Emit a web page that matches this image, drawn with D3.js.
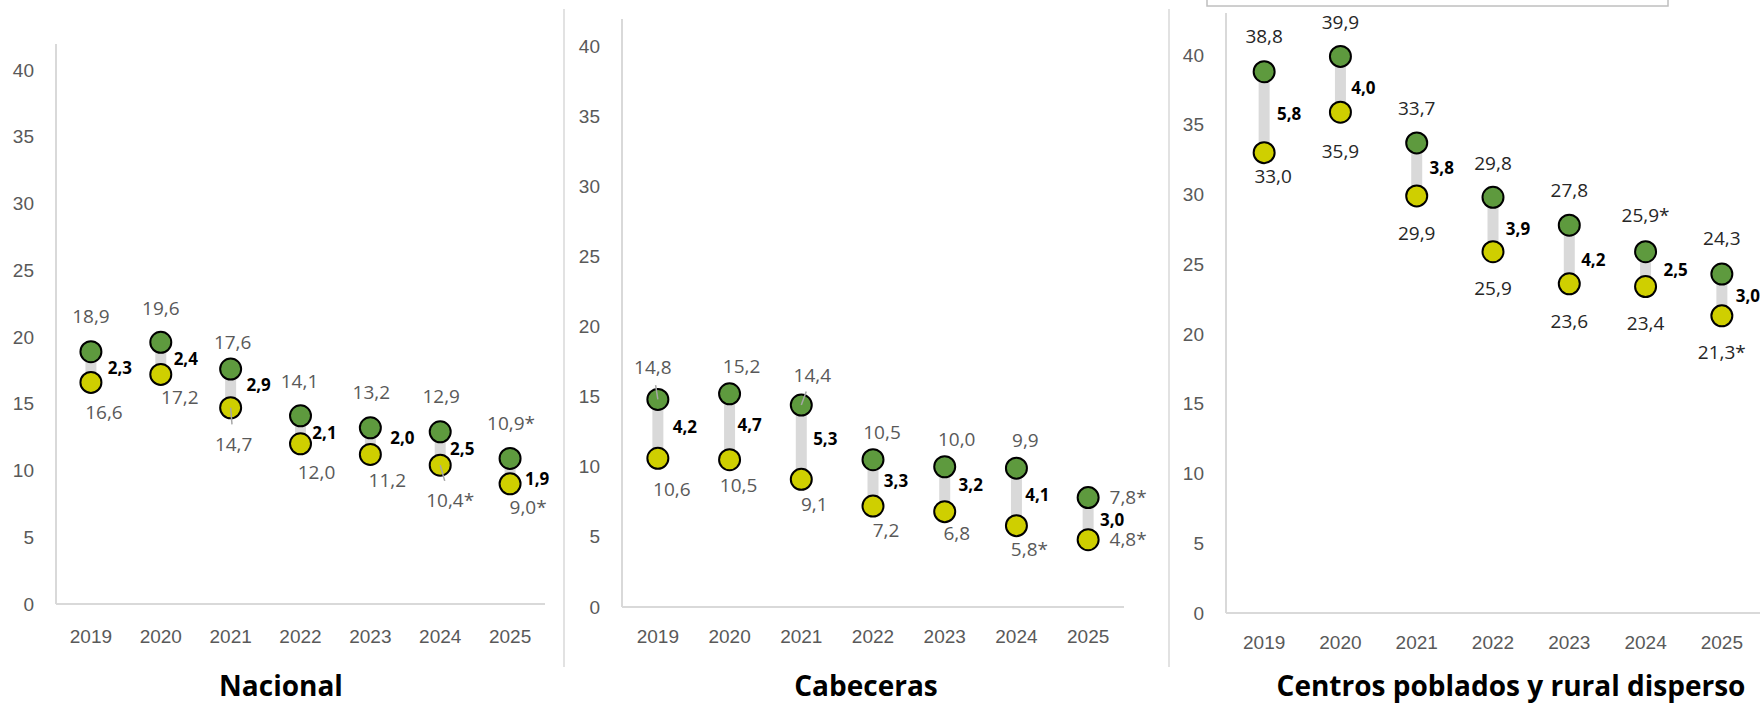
<!DOCTYPE html>
<html>
<head>
<meta charset="utf-8">
<script src="https://cdn.jsdelivr.net/npm/d3@7"></script>
<style>
  body { margin: 0; background: #fff; }
  svg { display: block; font-family: "Open Sans", "Noto Sans", sans-serif; }
</style>
</head>
<body>
<svg id="chart" width="1764" height="703"></svg>
<script>
// data
const years = ["2019", "2020", "2021", "2022", "2023", "2024", "2025"];
const yTicks = [0, 5, 10, 15, 20, 25, 30, 35, 40];

const nacionalAlto = [18.9, 19.6, 17.6, 14.1, 13.2, 12.9, 10.9];
const nacionalBajo = [16.6, 17.2, 14.7, 12.0, 11.2, 10.4, 9.0];
const nacionalDif  = [2.3, 2.4, 2.9, 2.1, 2.0, 2.5, 1.9];
const nacionalAltoStar = [0, 0, 0, 0, 0, 0, 1];
const nacionalBajoStar = [0, 0, 0, 0, 0, 1, 1];

const cabecerasAlto = [14.8, 15.2, 14.4, 10.5, 10.0, 9.9, 7.8];
const cabecerasBajo = [10.6, 10.5, 9.1, 7.2, 6.8, 5.8, 4.8];
const cabecerasDif  = [4.2, 4.7, 5.3, 3.3, 3.2, 4.1, 3.0];
const cabecerasAltoStar = [0, 0, 0, 0, 0, 0, 1];
const cabecerasBajoStar = [0, 0, 0, 0, 0, 1, 1];

const ruralAlto = [38.8, 39.9, 33.7, 29.8, 27.8, 25.9, 24.3];
const ruralBajo = [33.0, 35.9, 29.9, 25.9, 23.6, 23.4, 21.3];
const ruralDif  = [5.8, 4.0, 3.8, 3.9, 4.2, 2.5, 3.0];
const ruralAltoStar = [0, 0, 0, 0, 0, 1, 0];
const ruralBajoStar = [0, 0, 0, 0, 0, 0, 1];

const titles = ["Nacional", "Cabeceras", "Centros poblados y rural disperso"];

// layout of the three panels (pixels)
const panels = [
  { title: titles[0], alto: nacionalAlto, bajo: nacionalBajo, dif: nacionalDif,
    altoStar: nacionalAltoStar, bajoStar: nacionalBajoStar,
    x0: 56, x1: 545, yTop: 44, y0: 604, y40: 70, yearY: 637, titleX: 281, valueColor: "#595959",
    // label nudges [dx, dy] from the point
    altoOff: [[0,-35],[0,-34],[2,-27],[-1,-34],[1,-35],[1,-35],[1,-35]],
    bajoOff: [[13,30],[19,23],[3,37],[16,29],[17,26],[10,35],[18,23]],
    difOff:  [[29,1],[25,1],[28,-3],[24,3],[32,-3],[22,1],[27,8]],
    leaders: [["bajo", 2], ["bajo", 5]] },
  { title: titles[1], alto: cabecerasAlto, bajo: cabecerasBajo, dif: cabecerasDif,
    altoStar: cabecerasAltoStar, bajoStar: cabecerasBajoStar,
    x0: 622, x1: 1124, yTop: 19, y0: 607, y40: 46, yearY: 637, titleX: 866, valueColor: "#595959",
    altoOff: [[-5,-32],[12,-27],[11,-30],[9,-27],[12,-27],[9,-28],[40,0]],
    bajoOff: [[14,31],[9,26],[13,25],[13,24],[12,22],[13,24],[40,0]],
    difOff:  [[27,-2],[20,-2],[24,-3],[23,-2],[26,-4],[21,-2],[24,1]],
    leaders: [["alto", 0], ["alto", 2]] },
  { title: titles[2], alto: ruralAlto, bajo: ruralBajo, dif: ruralDif,
    altoStar: ruralAltoStar, bajoStar: ruralBajoStar,
    x0: 1226, x1: 1760, yTop: 13, y0: 613, y40: 55, yearY: 643, titleX: 1511, valueColor: "#262626",
    altoOff: [[0,-35],[0,-34],[0,-35],[0,-34],[0,-35],[0,-36],[0,-36]],
    bajoOff: [[9,24],[0,39],[0,37],[0,37],[0,38],[0,37],[0,36]],
    difOff:  [[25,2],[23,4],[25,-1],[25,5],[24,6],[30,1],[26,1]],
    leaders: [] }
];

const svg = d3.select("#chart");
const fmt = (v, star) => d3.format(".1f")(v).replace(".", ",") + (star ? "*" : "");
const green = "#5E9A3E", yellow = "#CFCF00", gridGray = "#D9D9D9";

// separators between panels and cut-off legend box
[564, 1169].forEach(x => {
  svg.append("line").attr("x1", x).attr("x2", x).attr("y1", 9).attr("y2", 667)
    .attr("stroke", gridGray).attr("stroke-width", 1.5);
});
svg.append("rect").attr("x", 1207).attr("y", -20).attr("width", 461).attr("height", 26)
  .attr("fill", "#fff").attr("stroke", "#BFBFBF").attr("stroke-width", 1.5);

panels.forEach(p => {
  const g = svg.append("g");
  const x = d3.scaleBand().domain(years).range([p.x0, p.x1]);
  const y = d3.scaleLinear().domain([0, 40]).range([p.y0, p.y40]);
  const cx = i => x(years[i]) + x.bandwidth() / 2;

  // axes
  const yAxis = g.append("g").attr("transform", `translate(${p.x0},0)`)
    .call(d3.axisLeft(y).tickValues(yTicks).tickSize(0).tickPadding(22));
  yAxis.select(".domain").remove();
  yAxis.selectAll("text").attr("fill", "#595959").style("font-size", "19px");

  const xAxis = g.append("g").attr("transform", `translate(0,${p.y0})`)
    .call(d3.axisBottom(x).tickSize(0).tickPadding(p.yearY - p.y0 - 7));
  xAxis.select(".domain").remove();
  xAxis.selectAll("text").attr("fill", "#595959").style("font-size", "19px");

  g.append("line").attr("x1", p.x0).attr("x2", p.x0).attr("y1", p.yTop).attr("y2", y(0))
    .attr("stroke", gridGray).attr("stroke-width", 2);
  g.append("line").attr("x1", p.x0).attr("x2", p.x1).attr("y1", y(0)).attr("y2", y(0))
    .attr("stroke", gridGray).attr("stroke-width", 2);

  const idx = d3.range(years.length);

  // connecting bars
  g.selectAll(".bar").data(idx).join("line")
    .attr("x1", cx).attr("x2", cx)
    .attr("y1", i => y(p.alto[i])).attr("y2", i => y(p.bajo[i]))
    .attr("stroke", gridGray).attr("stroke-width", 11);

  // leader lines
  p.leaders.forEach(([which, i]) => {
    const v = which === "alto" ? p.alto[i] : p.bajo[i];
    const off = which === "alto" ? p.altoOff[i] : p.bajoOff[i];
    const sx = cx(i), sy = y(v);
    const ex = sx + off[0] * 0.45, ey = sy + off[1] * 0.45;
    g.append("line").attr("x1", sx).attr("y1", sy).attr("x2", ex).attr("y2", ey)
      .attr("stroke", "#A6A6A6").attr("stroke-width", 1.5).attr("class", "leader");
  });

  // points
  g.selectAll(".pb").data(idx).join("circle")
    .attr("cx", cx).attr("cy", i => y(p.bajo[i])).attr("r", 10.5)
    .attr("fill", yellow).attr("stroke", "#000").attr("stroke-width", 2);
  g.selectAll(".pa").data(idx).join("circle")
    .attr("cx", cx).attr("cy", i => y(p.alto[i])).attr("r", 10.5)
    .attr("fill", green).attr("stroke", "#000").attr("stroke-width", 2);
  g.selectAll(".leader").raise();

  // value labels
  const label = (vals, stars, offs, cls) => {
    g.selectAll("." + cls).data(idx).join("text").attr("class", cls)
      .attr("x", i => cx(i) + offs[i][0])
      .attr("y", i => y(vals[i]) + offs[i][1])
      .attr("text-anchor", "middle").attr("dy", "0.35em")
      .attr("fill", p.valueColor).style("font-size", "19px")
      .text(i => fmt(vals[i], stars[i]));
  };
  label(p.alto, p.altoStar, p.altoOff, "la");
  label(p.bajo, p.bajoStar, p.bajoOff, "lb");

  g.selectAll(".ld").data(idx).join("text").attr("class", "ld")
    .attr("x", i => cx(i) + p.difOff[i][0])
    .attr("y", i => (y(p.alto[i]) + y(p.bajo[i])) / 2 + p.difOff[i][1])
    .attr("text-anchor", "middle").attr("dy", "0.35em")
    .attr("fill", "#000").style("font-size", "17px").style("font-weight", "bold")
    .text(i => fmt(p.dif[i], 0));

  // panel title
  g.append("text").attr("x", p.titleX).attr("y", 696).attr("text-anchor", "middle")
    .style("font-size", "28px").style("font-weight", "bold").attr("fill", "#000")
    .text(p.title);
});
</script>
</body>
</html>
